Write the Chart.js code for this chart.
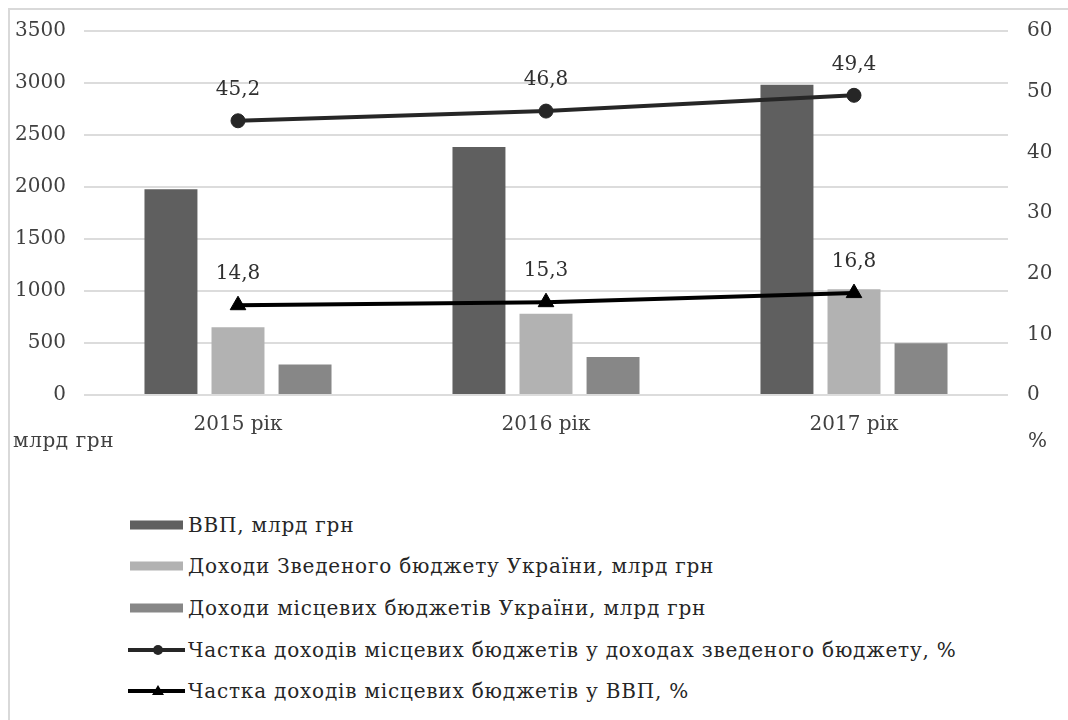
<!DOCTYPE html>
<html lang="uk">
<head>
    <meta charset="UTF-8">
    <title>ВВП та доходи бюджетів України, 2015-2017</title>
    <script src="https://cdn.jsdelivr.net/npm/chart.js"></script>
    <style>
        body { margin: 0; background: #fff; width: 1068px; height: 720px; overflow: hidden; position: relative; font-family: 'DejaVu Serif', serif; }
        #frame { position: absolute; left: 8px; top: 8px; width: 1090px; height: 760px; border: 2px solid #d9d9d9; box-sizing: border-box; }
        #chartCanvas { position: absolute; left: 0; top: 0; }
        .axisTitle { position: absolute; font-size: 20px; letter-spacing: 0.6px; color: #404040; line-height: 20px; }
        #legend { position: absolute; left: 128px; top: 504px; }
        .legendRow { height: 41.6px; display: flex; align-items: center; font-size: 20px; letter-spacing: 0.8px; color: #262626; white-space: nowrap; }
        .legendRow svg { margin-right: 3px; }
    </style>
</head>
<body>
    <div id="frame"></div>
    <canvas id="chartCanvas" width="1068" height="460"></canvas>
    <div class="axisTitle" style="left: 13px; top: 430px;">млрд грн</div>
    <div class="axisTitle" style="left: 1028px; top: 430px;">%</div>
    <div id="legend"></div>

    <script>
        // data
        const years = ['2015 рік', '2016 рік', '2017 рік'];
        const gdp = [1979, 2385, 2983];
        const consolidatedRevenue = [652, 782, 1016];
        const localRevenue = [294, 366, 498];
        const shareOfConsolidated = [45.2, 46.8, 49.4];
        const shareOfGdp = [14.8, 15.3, 16.8];

        const seriesNames = [
            'ВВП, млрд грн',
            'Доходи Зведеного бюджету України, млрд грн',
            'Доходи місцевих бюджетів України, млрд грн',
            'Частка доходів місцевих бюджетів у доходах зведеного бюджету, %',
            'Частка доходів місцевих бюджетів у ВВП, %'
        ];

        const tickFont = { family: 'DejaVu Serif', size: 20 };

        // values above line points, with decimal comma
        const pointLabels = {
            id: 'pointLabels',
            afterDatasetsDraw(chart) {
                const ctx = chart.ctx;
                ctx.save();
                ctx.font = '20px "DejaVu Serif"';
                ctx.fillStyle = '#303030';
                ctx.textAlign = 'center';
                ctx.textBaseline = 'middle';
                chart.data.datasets.forEach((ds, i) => {
                    if (ds.type !== 'line') return;
                    chart.getDatasetMeta(i).data.forEach((pt, j) => {
                        ctx.fillText(String(ds.data[j]).replace('.', ','), pt.x, pt.y - 31);
                    });
                });
                ctx.restore();
            }
        };

        const ctx = document.getElementById('chartCanvas').getContext('2d');
        const chart = new Chart(ctx, {
            data: {
                labels: years,
                datasets: [
                    { type: 'bar', label: seriesNames[0], data: gdp, backgroundColor: '#5f5f5f', yAxisID: 'y', order: 2 },
                    { type: 'bar', label: seriesNames[1], data: consolidatedRevenue, backgroundColor: '#b2b2b2', yAxisID: 'y', order: 2 },
                    { type: 'bar', label: seriesNames[2], data: localRevenue, backgroundColor: '#878787', yAxisID: 'y', order: 2 },
                    {
                        type: 'line', label: seriesNames[3], data: shareOfConsolidated, yAxisID: 'y1', order: 0,
                        borderColor: '#262626', borderWidth: 4, pointStyle: 'circle', pointRadius: 7,
                        pointBackgroundColor: '#262626', pointBorderColor: '#262626', pointBorderWidth: 1
                    },
                    {
                        type: 'line', label: seriesNames[4], data: shareOfGdp, yAxisID: 'y1', order: 1,
                        borderColor: '#000000', borderWidth: 4, pointStyle: 'triangle', pointRadius: 9,
                        pointBackgroundColor: '#000000', pointBorderColor: '#000000', pointBorderWidth: 1
                    }
                ]
            },
            options: {
                responsive: false,
                animation: false,
                devicePixelRatio: 1,
                layout: { padding: { top: 25, left: 0, right: 0, bottom: 0 } },
                datasets: {
                    bar: { categoryPercentage: 0.653, barPercentage: 0.79 }
                },
                plugins: {
                    legend: { display: false },
                    tooltip: { enabled: false }
                },
                scales: {
                    x: {
                        grid: { display: false },
                        border: { display: false },
                        ticks: { font: tickFont, color: '#404040', padding: 10 },
                        afterFit: (scale) => { scale.height = 65; }
                    },
                    y: {
                        position: 'left',
                        min: 0,
                        max: 3500,
                        ticks: { stepSize: 500, font: tickFont, color: '#404040', padding: 18, callback: (v) => String(v) },
                        grid: { color: '#dcdcdc', lineWidth: 2, drawTicks: false },
                        border: { display: false },
                        afterFit: (scale) => { scale.width = 84; }
                    },
                    y1: {
                        position: 'right',
                        min: 0,
                        max: 60,
                        ticks: { stepSize: 10, font: tickFont, color: '#404040', padding: 19, callback: (v) => String(v) },
                        grid: { display: false, drawTicks: false },
                        border: { display: false },
                        afterFit: (scale) => { scale.width = 60; }
                    }
                }
            },
            plugins: [pointLabels]
        });

        // legend built from the chart's datasets, one entry per row
        const legend = document.getElementById('legend');
        chart.data.datasets.forEach(ds => {
            const row = document.createElement('div');
            row.className = 'legendRow';
            let swatch;
            if (ds.type === 'bar') {
                swatch = `<svg width="57" height="12"><rect x="2" y="1.5" width="53" height="9" fill="${ds.backgroundColor}"/></svg>`;
            } else {
                const marker = ds.pointStyle === 'circle'
                    ? `<circle cx="30" cy="6" r="5" fill="${ds.borderColor}"/>`
                    : `<polygon points="30,0 36,10 24,10" fill="${ds.borderColor}"/>`;
                swatch = `<svg width="57" height="12"><line x1="0" y1="6" x2="57" y2="6" stroke="${ds.borderColor}" stroke-width="4"/>${marker}</svg>`;
            }
            row.innerHTML = swatch + '<span>' + ds.label + '</span>';
            legend.appendChild(row);
        });
    </script>
</body>
</html>
